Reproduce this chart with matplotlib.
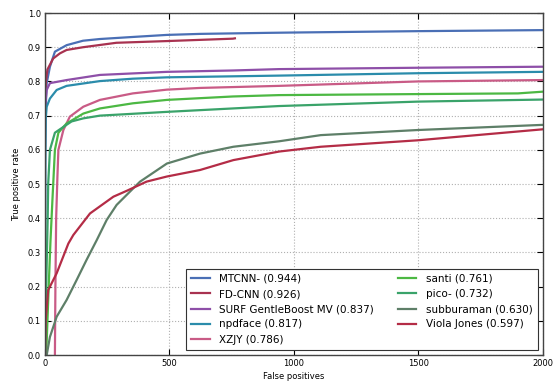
import numpy as np
from matplotlib import pyplot as plt

# ROC-like curves (false positives vs true positive rate)
mtcnn_fp = [0, 1, 3, 7, 20, 40, 87, 153, 221, 353, 490, 624, 892, 1000, 1500, 2000]
mtcnn_tp = [0, 0.60, 0.72, 0.795, 0.843, 0.887, 0.906, 0.919, 0.924, 0.930, 0.936, 0.939, 0.942, 0.943, 0.947, 0.950]

fdcnn_fp = [0, 1, 4, 10, 33, 60, 87, 153, 287, 490, 755, 763]
fdcnn_tp = [0.70, 0.76, 0.80, 0.835, 0.867, 0.882, 0.892, 0.900, 0.913, 0.918, 0.925, 0.926]

surf_fp = [0, 2, 7, 20, 87, 221, 490, 755, 940, 1500, 2000]
surf_tp = [0.70, 0.74, 0.775, 0.795, 0.804, 0.819, 0.828, 0.832, 0.836, 0.840, 0.843]

npd_fp = [0, 1, 3, 7, 20, 47, 87, 221, 353, 490, 940, 1500, 2000]
npd_tp = [0, 0.55, 0.69, 0.726, 0.750, 0.775, 0.787, 0.801, 0.808, 0.812, 0.817, 0.824, 0.828]

xzjy_fp = [40, 42, 45, 50, 54, 74, 100, 154, 221, 353, 490, 624, 940, 1500, 2000]
xzjy_tp = [0, 0.20, 0.40, 0.52, 0.60, 0.658, 0.697, 0.726, 0.746, 0.765, 0.776, 0.781, 0.787, 0.800, 0.804]

santi_fp = [5, 10, 15, 22, 30, 40, 54, 74, 87, 154, 221, 353, 490, 755, 940, 1500, 1900, 2000]
santi_tp = [0, 0.10, 0.20, 0.33, 0.453, 0.60, 0.65, 0.667, 0.677, 0.706, 0.721, 0.736, 0.746, 0.756, 0.760, 0.763, 0.765, 0.770]

pico_fp = [0, 3, 5, 8, 11, 13, 20, 40, 60, 107, 154, 221, 490, 940, 1500, 2000]
pico_tp = [0, 0.10, 0.20, 0.30, 0.40, 0.50, 0.60, 0.65, 0.66, 0.683, 0.692, 0.700, 0.711, 0.728, 0.741, 0.747]

subb_fp = [7, 20, 47, 87, 127, 167, 208, 248, 288, 328, 368, 382, 490, 623, 757, 941, 1108, 1500, 2000]
subb_tp = [0, 0.053, 0.112, 0.161, 0.219, 0.278, 0.336, 0.395, 0.439, 0.468, 0.497, 0.507, 0.560, 0.589, 0.609, 0.625, 0.643, 0.658, 0.673]

viola_fp = [0, 3, 13, 47, 94, 114, 181, 275, 328, 408, 490, 623, 757, 941, 1108, 1500, 2000]
viola_tp = [0, 0.102, 0.190, 0.239, 0.326, 0.351, 0.414, 0.463, 0.480, 0.507, 0.522, 0.541, 0.570, 0.595, 0.609, 0.628, 0.660]

labels = ['MTCNN- (0.944)', 'FD-CNN (0.926)', 'SURF GentleBoost MV (0.837)',
          'npdface (0.817)', 'XZJY (0.786)', 'santi (0.761)', 'pico- (0.732)',
          'subburaman (0.630)', 'Viola Jones (0.597)']
colors = ['#4a6fb5', '#a83250', '#8e4fa8', '#2b8cab', '#c95b86',
          '#4cb843', '#3aa36a', '#5e7f68', '#b42c46']
curves = [(mtcnn_fp, mtcnn_tp), (fdcnn_fp, fdcnn_tp), (surf_fp, surf_tp),
          (npd_fp, npd_tp), (xzjy_fp, xzjy_tp), (santi_fp, santi_tp),
          (pico_fp, pico_tp), (subb_fp, subb_tp), (viola_fp, viola_tp)]

fig = plt.figure(figsize=(5.55, 3.83), dpi=100)
ax = fig.add_axes([0.081, 0.073, 0.897, 0.893])

for (fp, tp), c, lab in zip(curves, colors, labels):
    ax.plot(fp, tp, color=c, lw=1.6, label=lab)

ax.set_xlim(0, 2000)
ax.set_ylim(0, 1.0)
ax.set_xticks([0, 500, 1000, 1500, 2000])
ax.set_yticks(np.arange(0, 1.01, 0.1))
ax.set_yticklabels(['%.1f' % v for v in np.arange(0, 1.01, 0.1)])
ax.grid(True, color='#b0b0b0', linestyle=':', linewidth=0.8)
ax.tick_params(direction='in', top=True, right=True, labelsize=6, length=4, pad=3)
for s in ax.spines.values():
    s.set_color('#444444')
    s.set_linewidth(1.0)
ax.set_xlabel('False positives', fontsize=6, labelpad=3)
ax.set_ylabel('True positive rate', fontsize=6, labelpad=5)

leg = ax.legend(loc='lower right', ncol=2, fontsize=7.5, fancybox=False,
                framealpha=1, edgecolor='#333333', handlelength=1.8,
                handletextpad=0.9, columnspacing=2.3, labelspacing=0.5,
                borderpad=0.5, borderaxespad=0, bbox_to_anchor=(0.99, 0.015))
leg.get_frame().set_linewidth(0.8)

fig.savefig('out.png', dpi=100, facecolor='white')
